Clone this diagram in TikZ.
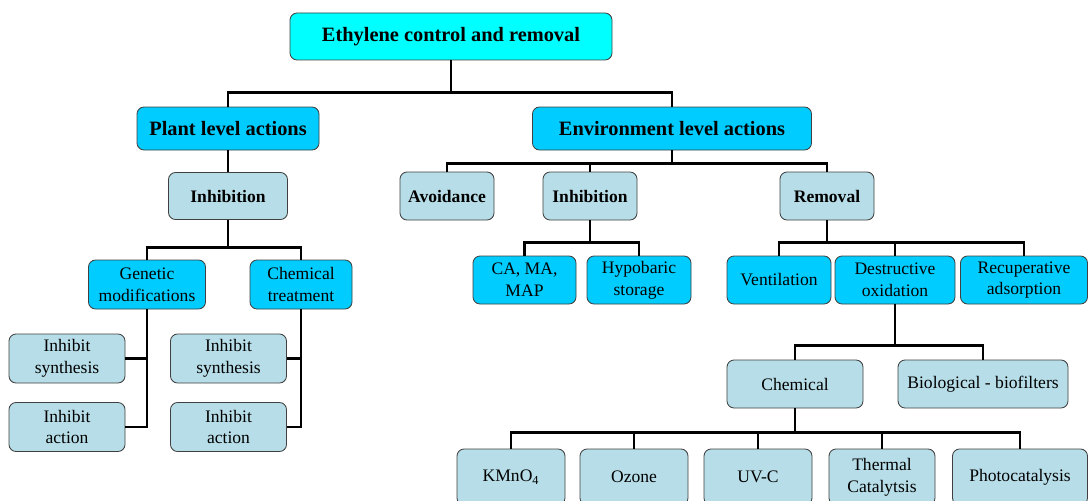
\documentclass[tikz,border=0pt]{standalone}
\usepackage{fontspec}
\setmainfont{Liberation Serif}
\usepackage{tikz}
\definecolor{rootcol}{HTML}{00FFFF}
\definecolor{levelcol}{HTML}{00CCFF}
\definecolor{leafcol}{HTML}{B7DEE8}
\definecolor{edgecol}{HTML}{404040}
\tikzset{
  box/.style      = {draw=edgecol, line width=0.6pt, rectangle, rounded corners=5pt, align=center, inner sep=0pt},
  rootbox/.style  = {box, fill=rootcol, font=\fontsize{14.5}{17}\selectfont\bfseries, minimum height=1.175cm},
  levelbox/.style = {box, fill=levelcol, font=\fontsize{14.5}{17}\selectfont\bfseries, minimum height=1.075cm},
  actbox/.style   = {box, fill=leafcol, font=\fontsize{12.5}{15.4}\selectfont\bfseries, minimum height=1.175cm},
  groupbox/.style = {box, fill=levelcol, font=\fontsize{12.5}{15.4}\selectfont, minimum height=1.2cm},
  leafbox/.style  = {box, fill=leafcol, font=\fontsize{12.5}{15.4}\selectfont, minimum height=1.2cm},
  link/.style     = {draw, line width=2pt, line join=miter}
}

\begin{document}
\begin{tikzpicture}[node distance=2cm]

\useasboundingbox (0,0) rectangle (27.2,-12.5);

% Root
\draw node [rootbox, minimum width=8.05cm] (top) at (11.275,-0.9125) {Ethylene control and removal};

% Level actions
\draw node [levelbox, below of=top, xshift=-5.575cm, node distance=2.3cm, minimum width=4.55cm] (plant) {Plant level actions};
\draw node [levelbox, below of=top, xshift=5.525cm, node distance=2.3cm, minimum width=6.975cm] (env) {Environment level actions};

% Plant side
\draw node [actbox, below of=plant, node distance=1.6875cm, minimum width=2.975cm] (inhL) {Inhibition};
\draw node [groupbox, below of=inhL, xshift=-2.025cm, node distance=2.2125cm, minimum width=2.925cm, minimum height=1.225cm] (gen) {Genetic\\modifications};
\draw node [groupbox, right of=gen, node distance=3.85cm, minimum width=2.55cm, minimum height=1.225cm] (chem) {Chemical\\treatment};
\draw node [leafbox, below of=gen, xshift=-2cm, node distance=1.85cm, minimum width=2.9cm, minimum height=1.225cm] (synL) {Inhibit\\synthesis};
\draw node [leafbox, below of=synL, node distance=1.7125cm, minimum width=2.9cm, minimum height=1.225cm] (actL) {Inhibit\\action};
\draw node [leafbox, right of=synL, node distance=4.0375cm, minimum width=2.9cm, minimum height=1.225cm] (synM) {Inhibit\\synthesis};
\draw node [leafbox, right of=actL, node distance=4.0375cm, minimum width=2.9cm, minimum height=1.225cm] (actM) {Inhibit\\action};

% Environment side
\draw node [actbox, below of=env, xshift=-5.625cm, node distance=1.6875cm, minimum width=2.35cm, minimum height=1.2cm] (avoid) {Avoidance};
\draw node [actbox, right of=avoid, node distance=3.575cm, minimum width=2.35cm, minimum height=1.2cm] (inhR) {Inhibition};
\draw node [actbox, right of=inhR, node distance=5.925cm, minimum width=2.35cm, minimum height=1.2cm] (rem) {Removal};

\draw node [groupbox, below of=inhR, xshift=-1.6375cm, node distance=2.1cm, minimum width=2.575cm] (cama) {CA, MA,\\MAP};
\draw node [groupbox, right of=cama, node distance=2.8625cm, minimum width=2.6cm] (hypo) {Hypobaric\\storage};

\draw node [groupbox, below of=rem, xshift=-1.2cm, node distance=2.1cm, minimum width=2.6cm] (vent) {Ventilation};
\draw node [groupbox, right of=vent, node distance=2.9cm, minimum width=3cm] (destr) {Destructive\\oxidation};
\draw node [groupbox, right of=destr, node distance=3.225cm, minimum width=3.175cm] (recup) {Recuperative\\adsorption};

% Oxidation
\draw node [leafbox, below of=destr, xshift=-2.5cm, node distance=2.6cm, minimum width=3.4cm] (chemox) {Chemical};
\draw node [leafbox, right of=chemox, node distance=4.7cm, minimum width=4.25cm] (bio) {Biological - biofilters};

\draw node [leafbox, below of=chemox, xshift=-7.1cm, node distance=2.325cm, minimum width=2.7cm, minimum height=1.4cm] (kmno) {KMnO\textsubscript{4}};
\draw node [leafbox, right of=kmno, node distance=3.075cm, minimum width=2.7cm, minimum height=1.4cm] (ozone) {Ozone};
\draw node [leafbox, right of=ozone, node distance=3.1cm, minimum width=2.7cm, minimum height=1.4cm] (uvc) {UV-C};
\draw node [leafbox, right of=uvc, node distance=3.1cm, minimum width=2.65cm, minimum height=1.4cm] (therm) {Thermal\\Catalytsis};
\draw node [leafbox, right of=therm, node distance=3.45cm, minimum width=3.375cm, minimum height=1.4cm] (photo) {Photocatalysis};

% Connections
\draw[link] (top.south) -- ++(0,-0.8) -| (plant.north);
\draw[link] (top.south) -- ++(0,-0.8) -| (env.north);

\draw[link] (plant) -- (inhL);
\draw[link] (inhL.south) -- ++(0,-0.6875) -| (gen.north);
\draw[link] (inhL.south) -- ++(0,-0.6875) -| (chem.north);
\draw[link] (gen.south) |- (synL.east);
\draw[link] (gen.south) |- (actL.east);
\draw[link] (chem.south) |- (synM.east);
\draw[link] (chem.south) |- (actM.east);

\draw[link] (env.south) -- ++(0,-0.3175) -| (avoid.north);
\draw[link] (env.south) -- ++(0,-0.3175) -| (inhR.north);
\draw[link] (env.south) -- ++(0,-0.3175) -| (rem.north);

\draw[link] (inhR.south) -- ++(0,-0.55) -| (cama.north);
\draw[link] (inhR.south) -- ++(0,-0.55) -| (hypo.north);

\draw[link] (rem.south) -- ++(0,-0.55) -| (vent.north);
\draw[link] (rem.south) -- ++(0,-0.55) -| (destr.north);
\draw[link] (rem.south) -- ++(0,-0.55) -| (recup.north);

\draw[link] (destr.south) -- ++(0,-1.025) -| (chemox.north);
\draw[link] (destr.south) -- ++(0,-1.025) -| (bio.north);

\draw[link] (chemox.south) -- ++(0,-0.6) -| (kmno.north);
\draw[link] (chemox.south) -- ++(0,-0.6) -| (ozone.north);
\draw[link] (chemox.south) -- ++(0,-0.6) -| (uvc.north);
\draw[link] (chemox.south) -- ++(0,-0.6) -| (therm.north);
\draw[link] (chemox.south) -- ++(0,-0.6) -| (photo.north);

\end{tikzpicture}
\end{document}
